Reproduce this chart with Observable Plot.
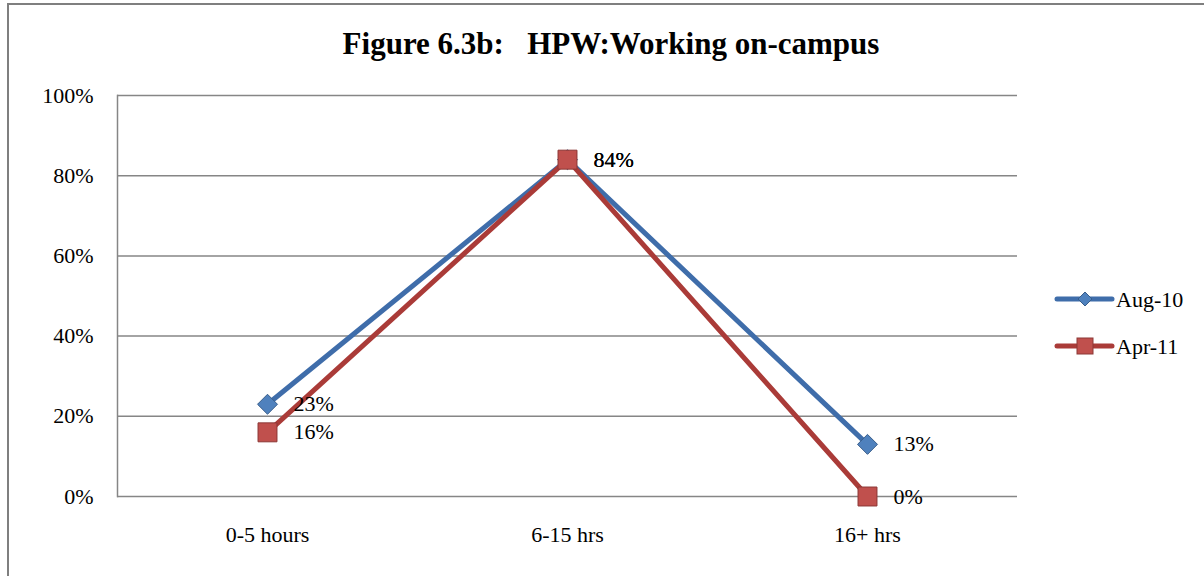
<!DOCTYPE html>
<html>
<head>
<meta charset="utf-8">
<script src="https://cdn.jsdelivr.net/npm/d3@7"></script>
<script src="https://cdn.jsdelivr.net/npm/@observablehq/plot@0.6"></script>
<style>
  html, body { margin: 0; padding: 0; background: #fff; }
  #wrap { position: relative; width: 1204px; height: 576px; overflow: hidden; font-family: "Liberation Serif", "DejaVu Serif", serif; }
  #border { position: absolute; left: 7px; top: 3px; width: 1300px; height: 700px; border-left: 2px solid #7f7f7f; border-top: 2px solid #7f7f7f; box-sizing: border-box; }
  #title { position: absolute; left: 0; width: 1222px; top: 28px; text-align: center; font-weight: bold; font-size: 31px; line-height: 31px; white-space: pre; color: #000; }
  #legend { position: absolute; left: 1050px; top: 281px; }
  #chart { position: absolute; left: 0; top: 0; }
</style>
</head>
<body>
<div id="wrap">
  <div id="border"></div>
  <div id="chart"></div>
  <div id="title"></div>
  <div id="legend"></div>
</div>
<script>
const titleText = "Figure 6.3b:   HPW:Working on-campus";
const categories = ["0-5 hours", "6-15 hrs", "16+ hrs"];
const aug10 = [0.23, 0.84, 0.13];
const apr11 = [0.16, 0.84, 0.00];
const seriesNames = ["Aug-10", "Apr-11"];
const yTicks = [0, 0.2, 0.4, 0.6, 0.8, 1.0];

const colors = {
  "Aug-10": { line: "#3F6DAA", fill: "#4F81BD", edge: "#385D8A", symbol: "diamond2", r: 9 },
  "Apr-11": { line: "#AA3B38", fill: "#C0504D", edge: "#8C3836", symbol: "square", r: 10.7 }
};

const augRows = categories.map((c, i) => ({ cat: c, value: aug10[i], series: seriesNames[0] }));
const aprRows = categories.map((c, i) => ({ cat: c, value: apr11[i], series: seriesNames[1] }));
const allRows = augRows.concat(aprRows);
const pct = d => Math.round(d * 100) + "%";

document.getElementById("title").textContent = titleText;

const seriesMarks = [augRows, aprRows].flatMap(rows => {
  const c = colors[rows[0].series];
  return [
    Plot.line(rows, { x: "cat", y: "value", stroke: c.line, strokeWidth: 5, strokeLinejoin: "round", strokeLinecap: "round" }),
    Plot.dot(rows, { x: "cat", y: "value", symbol: c.symbol, r: c.r, fill: c.fill, stroke: c.edge, strokeWidth: 1 })
  ];
});

const chart = Plot.plot({
  width: 1204,
  height: 576,
  marginLeft: 117,
  marginRight: 187,
  marginTop: 95,
  marginBottom: 80,
  x: { type: "point", domain: categories, padding: 0.5, label: null },
  y: { domain: [0, 1], label: null },
  style: { fontFamily: "Liberation Serif", fontSize: "22px", color: "#000", background: "transparent" },
  marks: [
    Plot.gridY(yTicks, { stroke: "#868686", strokeOpacity: 1, strokeWidth: 1.5 }),
    Plot.frame({ anchor: "left", stroke: "#868686", strokeWidth: 1.5 }),
    Plot.axisY(yTicks, { tickSize: 0, tickPadding: 24, tickFormat: pct, fill: "#000", label: null, fontFamily: "Liberation Serif", fontSize: 22 }),
    Plot.axisX({ tickSize: 0, tickPadding: 30, fill: "#000", label: null, fontFamily: "Liberation Serif", fontSize: 22 }),
    ...seriesMarks,
    Plot.text(allRows, { x: "cat", y: "value", text: d => pct(d.value), textAnchor: "start", dx: 26, fill: "#000", fontFamily: "Liberation Serif", fontSize: 22, fontWeight: "normal" })
  ]
});
document.getElementById("chart").appendChild(chart);

// Legend
const lg = d3.select("#legend").append("svg").attr("width", 154).attr("height", 90)
  .style("font-family", "Liberation Serif").style("font-size", "22px");
seriesNames.forEach((name, i) => {
  const c = colors[name];
  const y = 18 + i * 47;
  const g = lg.append("g");
  g.append("line").attr("x1", 7).attr("x2", 62).attr("y1", y).attr("y2", y)
    .attr("stroke", c.line).attr("stroke-width", 5).attr("stroke-linecap", "round");
  if (c.symbol === "diamond2") {
    g.append("path").attr("d", `M35,${y - 7}L42,${y}L35,${y + 7}L28,${y}Z`)
      .attr("fill", c.fill).attr("stroke", c.edge);
  } else {
    g.append("rect").attr("x", 27).attr("y", y - 8).attr("width", 16).attr("height", 16)
      .attr("fill", c.fill).attr("stroke", c.edge);
  }
  g.append("text").attr("x", 66).attr("y", y).attr("dy", "0.35em").attr("fill", "#000").text(name);
});
</script>
</body>
</html>
